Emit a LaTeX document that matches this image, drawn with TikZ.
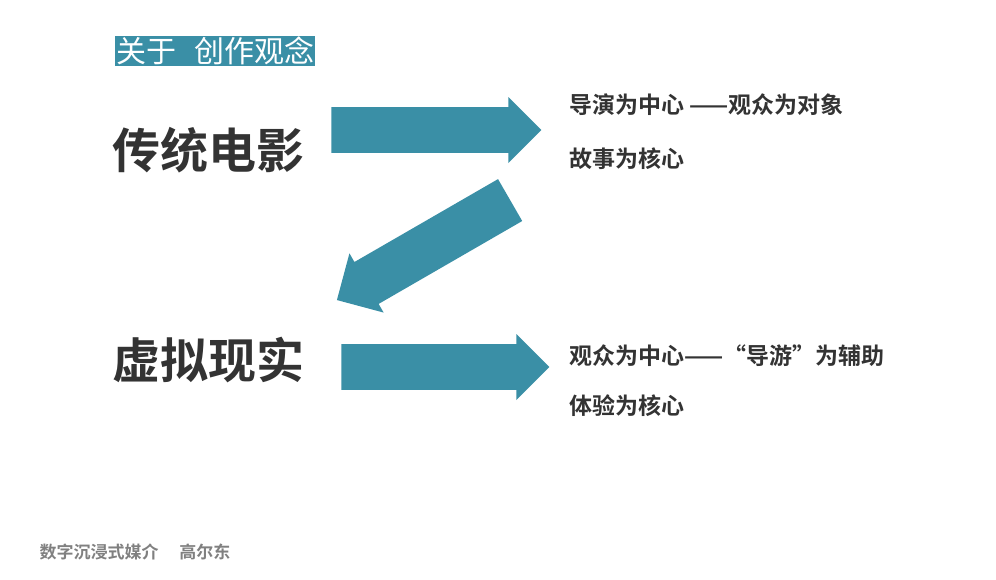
\documentclass[tikz,border=0pt]{standalone}
\usepackage{fontspec}
\newfontfamily\cjk{Noto Sans CJK SC}
\newfontfamily\cjkb{Noto Sans CJK SC Bold}
\usetikzlibrary{shapes.arrows}
\definecolor{teal}{HTML}{3A8FA6}
\definecolor{ink}{HTML}{333333}
\tikzset{
  bigarrow/.style = {single arrow, fill = teal, draw = none, minimum width = 66pt,
    single arrow head extend = 10pt, single arrow head indent = 0pt, inner sep = 0pt},
  headline/.style = {text = ink, font = \cjkb\fontsize{48pt}{56pt}\selectfont},
  point/.style = {anchor = west, text = ink, font = \cjkb\fontsize{23pt}{27pt}\selectfont}
}
\begin{document}
\begin{tikzpicture}[x = 1pt, y = -1pt]
    \useasboundingbox (0, 0) rectangle (996, 579);
    \node [fill = teal, text = white, inner sep = 1pt, anchor = west,
      font = \cjk\fontsize{30pt}{34pt}\selectfont] (title) at (115, 51) {关于\hspace{18pt}创作观念};
    % headlines
    \node [headline] (film) at (208, 150) {传统电影};
    \node [headline] (vr) at (208, 360) {虚拟现实};
    % arrows
    \node [bigarrow, minimum height = 210pt] (arrA) at (425, 130) {\rule{0pt}{45pt}};
    \node [bigarrow, minimum height = 200pt, rotate = 210] (arrB) at (434, 244) {\rule{0pt}{48pt}};
    \node [bigarrow, minimum height = 208pt] (arrC) at (434, 367) {\rule{0pt}{45pt}};
    % points
    \node [point] (p1) at (566, 105) {导演为中心 ——观众为对象};
    \node [point] (p2) at (566, 159) {故事为核心};
    \node [point] (p3) at (566, 356) {观众为中心——“导游”为辅助};
    \node [point] (p4) at (566, 406) {体验为核心};
    \node [anchor = west, text = gray, font = \cjkb\fontsize{17pt}{20pt}\selectfont]
      (foot) at (36, 552) {数字沉浸式媒介\quad\ 高尔东};
\end{tikzpicture}
\end{document}
